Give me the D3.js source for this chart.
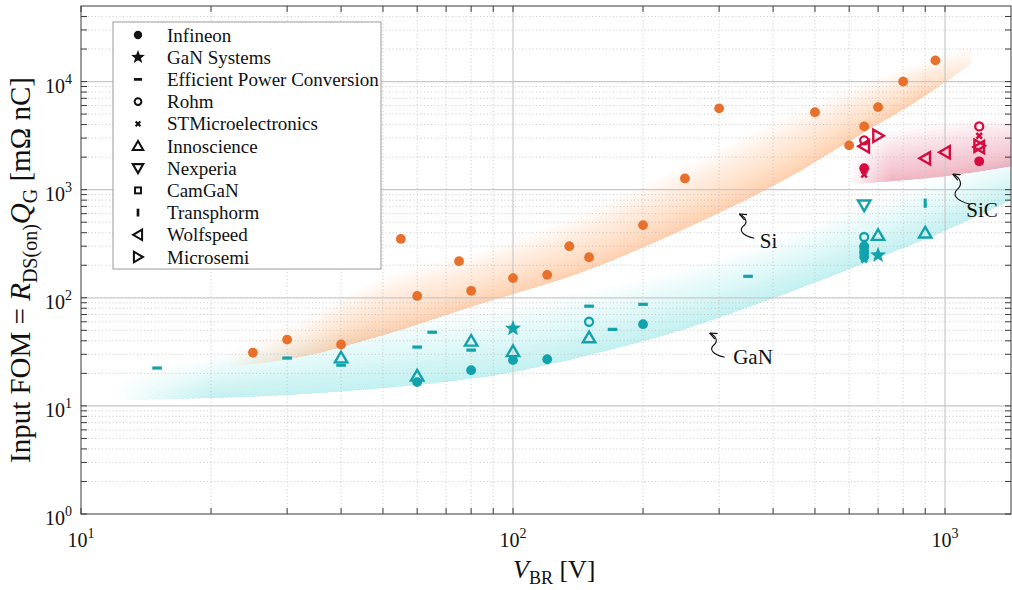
<!DOCTYPE html>
<html><head><meta charset="utf-8">
<script src="https://cdn.jsdelivr.net/npm/d3@7"></script>
<style>
body{margin:0;background:#fff;}
svg{display:block;font-family:"Liberation Serif","Times New Roman",serif;}
</style></head><body>
<svg id="c" width="1012" height="590"></svg>
<script>
// ---------------- DATA ----------------
const xTickValues = [10, 100, 1000];
const xTickExps = ["1", "2", "3"];
const yTickValues = [1, 10, 100, 1000, 10000];
const yTickExps = ["0", "1", "2", "3", "4"];

const companies = ["Infineon","GaN Systems","Efficient Power Conversion","Rohm","STMicroelectronics","Innoscience","Nexperia","CamGaN","Transphorm","Wolfspeed","Microsemi"];
const markerTypes = ["circle","star","hdash","ocircle","xmark","utri","dtri","square","vdash","ltri","rtri"];
const techColors = {Si:"#E8702A", GaN:"#12A2AC", SiC:"#D60A3C"};

// [V_BR (V), FOM (mOhm nC)]
const infineonSi  = [[25,31],[30,41],[40,37],[55,350],[60,104],[75,218],[80,116],[100,152],[120,163],[135,300],[150,237],[200,470],[250,1270],[300,5650],[500,5200],[600,2570],[650,3850],[700,5800],[800,10000],[950,15700]];
const infineonGaN = [[60,16.6],[80,21.4],[100,26.5],[120,27],[200,57],[650,300],[650,262],[650,240]];
const infineonSiC = [[650,1580],[1200,1830]];
const ganSystemsGaN = [[100,52],[700,248]];
const epcGaN = [[15,22.4],[30,27.7],[40,23.8],[60,35],[65,48],[80,32.8],[150,83.6],[170,51],[200,87],[350,158]];
const rohmGaN = [[150,60],[650,365]];
const rohmSiC = [[650,2860],[1200,3850]];
const stGaN = [[650,225]];
const stSiC = [[650,1380],[1200,3150]];
const innoscienceGaN = [[40,28],[60,19],[80,40],[100,32],[150,43],[700,380],[900,400]];
const nexperiaGaN = [[650,718]];
const camganGaN = [[650,280]];
const transphormGaN = [[900,750]];
const wolfspeedSiC = [[650,2520],[900,1950],[1000,2220],[1200,2480]];
const microsemiSiC = [[700,3150],[1200,2550]];

// technology bands: V_BR samples, lower and upper FOM
const siBandX  = [22,32,50,85,145,245,415,650,900,1150];
const siBandLo = [23.3,28.2,45,89,173,420,1170,3400,7400,14700];
const siBandHi = [36,62,155,275,620,1640,4580,9800,15600,21600];
const ganBandX  = [12,20,30,50,100,150,250,400,650,900,1420];
const ganBandLo = [11.3,11.8,12.6,14.6,20.5,29.5,51.3,99,209,348,798];
const ganBandHi = [20.5,27.7,40.6,59.5,85,117,188,341,718,1100,2080];
const sicBandX  = [600,700,800,1000,1420];
const sicBandLo = [1120,1170,1220,1330,1645];
const sicBandHi = [2570,3180,3690,4200,4770];

// annotation anchors (arrow tips) in data units
const annotations = [
  {label:"Si",  x:335,  y:593,  dx:20, dy:34},
  {label:"GaN", x:286,  y:47,   dx:23, dy:31},
  {label:"SiC", x:1045, y:1387, dx:13, dy:43}
];

// ---------------- SCALES ----------------
const W = 1012, H = 590;
const X0 = 81, X1 = 1011, Y0 = 514, Y1 = 6;
const xDomainMax = Math.pow(10, 1 + (X1 - X0) / 432);
const x = d3.scaleLog().domain([10, xDomainMax]).range([X0, X1]);
const y = d3.scaleLog().domain([1, 5e4]).range([Y0, Y1]);

const svg = d3.select("#c");
svg.append("rect").attr("width", W).attr("height", H).attr("fill", "#fff");
const defs = svg.append("defs");
defs.append("clipPath").attr("id","plotClip").append("rect")
  .attr("x",X0).attr("y",Y1).attr("width",X1-X0).attr("height",Y0-Y1);

// ---------------- BANDS ----------------
function band(id, xs, lo, hi, color, fadeIn, fadeOut, alpha) {
  const grad = defs.append("linearGradient").attr("id", id+"G")
    .attr("gradientUnits","userSpaceOnUse").attr("x1",0).attr("x2",W).attr("y1",0).attr("y2",0);
  const stops = [[0,0],[fadeIn[0],0],[fadeIn[1],1]];
  if (fadeOut) { stops.push([fadeOut[0],1],[fadeOut[1],0],[W,0]); } else { stops.push([W,1]); }
  stops.forEach(s => grad.append("stop").attr("offset", s[0]/W).attr("stop-color","#fff").attr("stop-opacity", s[1]));
  const mask = defs.append("mask").attr("id", id+"M").attr("maskUnits","userSpaceOnUse")
    .attr("x",0).attr("y",0).attr("width",W).attr("height",H);
  mask.append("rect").attr("width",W).attr("height",H).attr("fill","url(#"+id+"G)");
  const pts = xs.map((v,i)=>({px:x(v), lo:y(lo[i]), hi:y(hi[i])}));
  const g = svg.append("g").attr("clip-path","url(#plotClip)").append("g").attr("mask","url(#"+id+"M)");
  const K = 20;
  for (let k=1; k<=K; k++) {
    const t = Math.pow(k/K, 1.3);
    const area = d3.area().curve(d3.curveMonotoneX)
      .x(d=>d.px).y0(d=>d.lo).y1(d=>d.lo + (d.hi-d.lo)*t);
    g.append("path").attr("d", area(pts)).attr("fill", color).attr("fill-opacity", alpha);
  }
}
band("gan", ganBandX, ganBandLo, ganBandHi, "#6FD0DA", [112,210], null, 0.026);
band("si",  siBandX,  siBandLo,  siBandHi,  "#F6A157", [222,340], [925,992], 0.027);
band("sic", sicBandX, sicBandLo, sicBandHi, "#DE6577", [848,890], null, 0.032);

// ---------------- GRID ----------------
const grid = svg.append("g");
const xMinor = [], yMinor = [];
[10,100,1000].forEach(d=>{ for(let m=2;m<=9;m++){ const v=d*m; if(v<xDomainMax) xMinor.push(v);} });
[1,10,100,1000,10000].forEach(d=>{ for(let m=2;m<=9;m++){ const v=d*m; if(v<5e4) yMinor.push(v);} });
grid.selectAll(".xm").data(xMinor).join("line")
  .attr("x1",d=>x(d)).attr("x2",d=>x(d)).attr("y1",Y1).attr("y2",Y0)
  .attr("stroke","#bdbdbd").attr("stroke-width",0.8).attr("stroke-dasharray","1,2.5");
grid.selectAll(".ym").data(yMinor).join("line")
  .attr("y1",d=>y(d)).attr("y2",d=>y(d)).attr("x1",X0).attr("x2",X1)
  .attr("stroke","#bdbdbd").attr("stroke-width",0.8).attr("stroke-dasharray","1,2.5");
grid.selectAll(".xM").data(xTickValues.slice(1)).join("line")
  .attr("x1",d=>x(d)).attr("x2",d=>x(d)).attr("y1",Y1).attr("y2",Y0)
  .attr("stroke","#c8c8c8").attr("stroke-width",1.2);
grid.selectAll(".yM").data(yTickValues.slice(1)).join("line")
  .attr("y1",d=>y(d)).attr("y2",d=>y(d)).attr("x1",X0).attr("x2",X1)
  .attr("stroke","#c8c8c8").attr("stroke-width",1.2);

// ---------------- AXES (ticks inward, box) ----------------
const axCol = "#3a3a3a";
const allX = xTickValues.concat(xMinor), allY = yTickValues.concat(yMinor);
const ax = svg.append("g").attr("stroke", axCol).attr("stroke-width", 1);
allX.forEach(v=>{
  ax.append("line").attr("x1",x(v)).attr("x2",x(v)).attr("y1",Y0).attr("y2",Y0-6);
  ax.append("line").attr("x1",x(v)).attr("x2",x(v)).attr("y1",Y1).attr("y2",Y1+6);
});
allY.forEach(v=>{
  ax.append("line").attr("y1",y(v)).attr("y2",y(v)).attr("x1",X0).attr("x2",X0+6);
  ax.append("line").attr("y1",y(v)).attr("y2",y(v)).attr("x1",X1).attr("x2",X1-6);
});
ax.append("rect").attr("x",X0).attr("y",Y1).attr("width",X1-X0).attr("height",Y0-Y1).attr("fill","none");

// tick labels
const tl = svg.append("g").attr("fill","#111");
xTickValues.forEach((v,i)=>{
  const t = tl.append("text").attr("x", x(v)).attr("y", 547).attr("text-anchor","middle").attr("font-size",20);
  t.append("tspan").text("10");
  t.append("tspan").attr("font-size",14).attr("dy",-9).text(xTickExps[i]);
});
yTickValues.forEach((v,i)=>{
  const t = tl.append("text").attr("x", 72).attr("y", y(v)+11).attr("text-anchor","end").attr("font-size",20);
  t.append("tspan").text("10");
  t.append("tspan").attr("font-size",14).attr("dy",-9).text(yTickExps[i]);
});

// axis titles
const xt = svg.append("text").attr("x",513).attr("y",578).attr("font-size",26).attr("fill","#111");
xt.append("tspan").attr("font-style","italic").text("V");
xt.append("tspan").attr("font-size",18).attr("dy",6).text("BR");
xt.append("tspan").attr("dy",-6).text(" [V]");

const yt = svg.append("text").attr("transform","translate(30,270) rotate(-90)")
  .attr("text-anchor","middle").attr("font-size",29).attr("fill","#111");
yt.append("tspan").text("Input FOM = ");
yt.append("tspan").attr("font-style","italic").text("R");
yt.append("tspan").attr("font-size",20).attr("dy",7).text("DS(on)");
yt.append("tspan").attr("font-style","italic").attr("dy",-7).text("Q");
yt.append("tspan").attr("font-size",20).attr("dy",7).text("G");
yt.append("tspan").attr("dy",-7).text(" [mΩ nC]");

// ---------------- MARKERS ----------------
function triPath(dir, s) {
  const a = 6.2*s, b = 4.8*s, c = 5.8*s;
  if (dir==="u") return `M0,${-c}L${a},${b}L${-a},${b}Z`;
  if (dir==="d") return `M0,${c}L${a},${-b}L${-a},${-b}Z`;
  if (dir==="l") return `M${-c},0L${b},${-a}L${b},${a}Z`;
  return `M${c},0L${-b},${-a}L${-b},${a}Z`;
}
function starPath(R) {
  const r = R*0.42; let p = "";
  for (let i=0;i<10;i++){ const rad = i%2===0?R:r; const ang = -Math.PI/2 + i*Math.PI/5;
    p += (i===0?"M":"L") + (rad*Math.cos(ang)).toFixed(2)+","+(rad*Math.sin(ang)).toFixed(2); }
  return p+"Z";
}
function drawMarker(g, type, cx, cy, color, s) {
  const m = g.append("g").attr("transform",`translate(${cx},${cy})`);
  switch(type){
    case "circle": m.append("circle").attr("r",4.9*s).attr("fill",color); break;
    case "star": m.append("path").attr("d",starPath(8.5*s)).attr("fill",color); break;
    case "hdash": m.append("rect").attr("x",-4.8*s).attr("y",-1.6*s).attr("width",9.6*s).attr("height",3.2*s).attr("fill",color); break;
    case "ocircle": m.append("circle").attr("r",4*s).attr("fill","none").attr("stroke",color).attr("stroke-width",2.3*s); break;
    case "xmark": m.append("path").attr("d",`M${-2.8*s},${-2.8*s}L${2.8*s},${2.8*s}M${-2.8*s},${2.8*s}L${2.8*s},${-2.8*s}`).attr("stroke",color).attr("stroke-width",2.5*s); break;
    case "utri": m.append("path").attr("d",triPath("u",s)).attr("fill","none").attr("stroke",color).attr("stroke-width",2.4*s); break;
    case "dtri": m.append("path").attr("d",triPath("d",s)).attr("fill","none").attr("stroke",color).attr("stroke-width",2.4*s); break;
    case "ltri": m.append("path").attr("d",triPath("l",s)).attr("fill","none").attr("stroke",color).attr("stroke-width",2.4*s); break;
    case "rtri": m.append("path").attr("d",triPath("r",s)).attr("fill","none").attr("stroke",color).attr("stroke-width",2.4*s); break;
    case "square": m.append("rect").attr("x",-3.5*s).attr("y",-3.5*s).attr("width",7*s).attr("height",7*s).attr("fill","none").attr("stroke",color).attr("stroke-width",2.3*s); break;
    case "vdash": m.append("rect").attr("x",-1.6*s).attr("y",-4.6*s).attr("width",3.2*s).attr("height",9.2*s).attr("fill",color); break;
  }
}

const series = [
  ["circle", infineonSi, "Si"], ["circle", infineonGaN, "GaN"], ["circle", infineonSiC, "SiC"],
  ["star", ganSystemsGaN, "GaN"],
  ["hdash", epcGaN, "GaN"],
  ["ocircle", rohmGaN, "GaN"], ["ocircle", rohmSiC, "SiC"],
  ["xmark", stGaN, "GaN"], ["xmark", stSiC, "SiC"],
  ["utri", innoscienceGaN, "GaN"],
  ["dtri", nexperiaGaN, "GaN"],
  ["square", camganGaN, "GaN"],
  ["vdash", transphormGaN, "GaN"],
  ["ltri", wolfspeedSiC, "SiC"],
  ["rtri", microsemiSiC, "SiC"]
];
const mk = svg.append("g").attr("clip-path","url(#plotClip)");
series.forEach(([type, data, tech]) => {
  data.forEach(d => drawMarker(mk, type, x(d[0]), y(d[1]), techColors[tech], 1));
});

// ---------------- ANNOTATIONS ----------------
defs.append("marker").attr("id","ah").attr("viewBox","0 0 10 10").attr("refX",9).attr("refY",5)
  .attr("markerWidth",7).attr("markerHeight",7).attr("orient","auto-start-reverse")
  .append("path").attr("d","M0,1L10,5L0,9").attr("fill","none").attr("stroke","#111").attr("stroke-width",1.6);
const an = svg.append("g");
annotations.forEach(a => {
  const px = x(a.x), py = y(a.y);
  const sc = a.label==="SiC" ? 1.0 : 0.85;
  const h = a.label==="SiC" ? 1.25 : 1.0;
  an.append("path")
    .attr("d", `M${px},${py} c${7*sc},${3*h} ${10*sc},${8*h} ${4*sc},${12*h} c${-5*sc},${4*h} ${-2*sc},${9*h} ${13*sc},${12*h}`)
    .attr("fill","none").attr("stroke","#111").attr("stroke-width",1.1).attr("marker-start","url(#ah)");
  an.append("text").attr("x",px+a.dx).attr("y",py+a.dy).attr("font-size",21).attr("fill","#111").text(a.label);
});

// ---------------- LEGEND ----------------
const lg = svg.append("g");
lg.append("rect").attr("x",113).attr("y",22).attr("width",268).attr("height",247)
  .attr("fill","#fff").attr("stroke","#9a9a9a").attr("stroke-width",1);
companies.forEach((name,i)=>{
  const cy = 35 + i*22.2;
  drawMarker(lg, markerTypes[i], 138, cy, "#111", 0.85);
  lg.append("text").attr("x",167).attr("y",cy+6.5).attr("font-size",19).attr("fill","#111").text(name);
});
</script>
</body></html>
